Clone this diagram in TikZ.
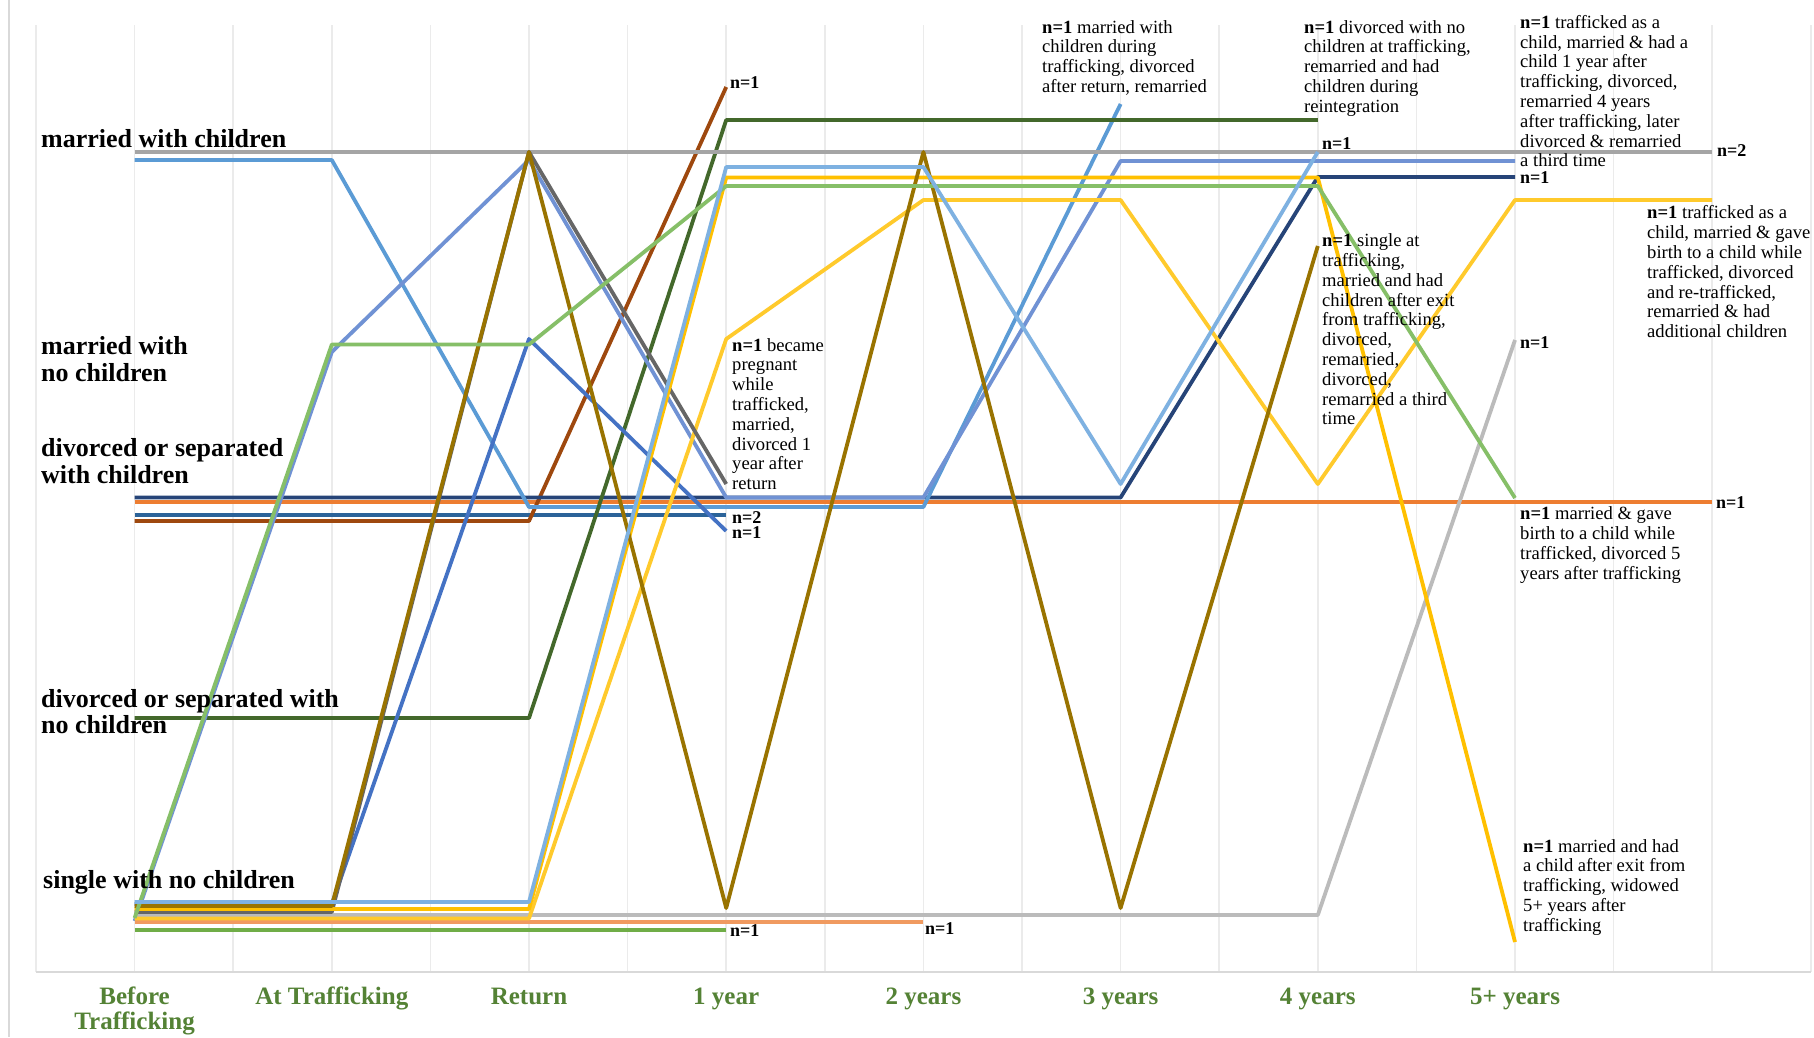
\documentclass[tikz,border=0pt]{standalone}
\usepackage{fontspec}
\setmainfont{Liberation Serif}
\definecolor{cGrayA}{HTML}{A5A5A5}
\definecolor{cBlue}{HTML}{5B9BD5}
\definecolor{cPeri}{HTML}{7092D4}
\definecolor{cLGreen}{HTML}{86BF68}
\definecolor{cOlive}{HTML}{997300}
\definecolor{cDGray}{HTML}{666666}
\definecolor{cMBlue}{HTML}{4472C4}
\definecolor{cLBlue}{HTML}{7EB1E1}
\definecolor{cYel}{HTML}{FFC000}
\definecolor{cYel2}{HTML}{FFCA2C}
\definecolor{cNavy}{HTML}{264478}
\definecolor{cOrange}{HTML}{ED7D31}
\definecolor{cSteel}{HTML}{2B6399}
\definecolor{cBrown}{HTML}{9E480E}
\definecolor{cDGreen}{HTML}{43682B}
\definecolor{cLOrange}{HTML}{F09A60}
\definecolor{cLGray}{HTML}{BBBBBB}
\definecolor{cGreen}{HTML}{70AD47}
\definecolor{axgreen}{HTML}{548235}
\definecolor{gridc}{HTML}{EBEBEB}
\definecolor{axisc}{HTML}{D9D9D9}
\begin{document}
\begin{tikzpicture}[x=1pt,y=-1pt,
  ser/.style={line width=3.8pt, line join=round},
  catlab/.style={font=\fontsize{26}{27}\selectfont\bfseries, anchor=base west, inner sep=0pt},
  axlab/.style={font=\fontsize{25}{26}\selectfont\bfseries, text=axgreen, anchor=base, inner sep=0pt},
  note/.style={font=\fontsize{18.6}{19.8}\selectfont, align=left, anchor=north west, inner sep=0pt},
  nlab/.style={font=\fontsize{18}{19}\selectfont\bfseries, anchor=west, inner sep=0pt}]
\fill[white] (0,0) rectangle (1814,1037);
\useasboundingbox (0,0) rectangle (1814,1037);
% frame and grid
\draw[axisc, line width=2pt] (9,0) -- (9,1037);
\foreach \i in {0,...,18}{
  \draw[gridc, line width=1.5pt] ({36+98.6*\i},25) -- ({36+98.6*\i},972);
}
\draw[axisc, line width=2.5pt] (36,972) -- (1811,972);
% series
\draw[ser, cOrange] (134.6,502) -- (1712.2,502);
\draw[ser, cSteel] (134.6,515) -- (726.2,515);
\draw[ser, cBrown] (134.6,521) -- (529,521) -- (726.2,87);
\draw[ser, cNavy] (134.6,497.5) -- (1120.6,497.5) -- (1317.8,177) -- (1515,177);
\draw[ser, cBlue] (134.6,160) -- (331.8,160) -- (529,507) -- (923.4,507) -- (1120.6,104);
\draw[ser, cDGreen] (134.6,718) -- (529,718) -- (726.2,120) -- (1317.8,120);
\draw[ser, cGrayA] (134.6,152) -- (1712.2,152);
\draw[ser, cMBlue] (134.6,904) -- (331.8,904) -- (529,339) -- (726.2,531);
\draw[ser, cPeri] (134.6,921) -- (331.8,352) -- (529,160) -- (726.2,497.5) -- (923.4,497.5) -- (1120.6,161) -- (1515,161);
\draw[ser, cGreen] (134.6,930) -- (726.2,930);
\draw[ser, cLOrange] (134.6,922) -- (923.4,922);
\draw[ser, cLGray] (134.6,915) -- (1317.8,915) -- (1515,340);
\draw[ser, cYel2] (134.6,918.5) -- (529,918.5) -- (726.2,339) -- (923.4,200) -- (1120.6,200) -- (1317.8,484) -- (1515,200) -- (1712.2,200);
\draw[ser, cDGray] (134.6,912) -- (331.8,912) -- (529,152) -- (726.2,484);
\draw[ser, cYel] (134.6,909) -- (529,909) -- (726.2,177.5) -- (1317.8,177.5) -- (1515,942);
\draw[ser, cOlive] (134.6,906) -- (331.8,906) -- (529,152) -- (726.2,908) -- (923.4,152) -- (1120.6,908) -- (1317.8,246);
\draw[ser, cLGreen] (134.6,918) -- (331.8,344.5) -- (529,344.5) -- (726.2,186) -- (1317.8,186) -- (1515,498);
\draw[ser, cLBlue] (134.6,902) -- (529,902) -- (726.2,167) -- (923.4,167) -- (1120.6,484) -- (1317.8,152);
% category labels
\node[catlab] (l1) at (41,147.5) {married with children};
\node[catlab] (l2a) at (41,354.5) {married with};
\node[catlab] (l2b) at (41,381.5) {no children};
\node[catlab] (l3a) at (41,456.5) {divorced or separated};
\node[catlab] (l3b) at (41,483.5) {with children};
\node[catlab] (l4a) at (41,707) {divorced or separated with};
\node[catlab] (l4b) at (41,733.5) {no children};
\node[catlab] (l5) at (43,888.5) {single with no children};
% axis labels
\node[axlab] (a0a) at (134.6,1004) {Before};
\node[axlab] (a0b) at (134.6,1029) {Trafficking};
\node[axlab] (a1) at (331.8,1004) {At Trafficking};
\node[axlab] (a2) at (529,1004) {Return};
\node[axlab] (a3) at (726.2,1004) {1 year};
\node[axlab] (a4) at (923.4,1004) {2 years};
\node[axlab] (a5) at (1120.6,1004) {3 years};
\node[axlab] (a6) at (1317.8,1004) {4 years};
\node[axlab] (a7) at (1515,1004) {5+ years};
% annotations
\node[note] (t1) at (1042,20) {\textbf{n=1} married with\\children during\\trafficking, divorced\\after return, remarried};
\node[note] (t2) at (1304,20) {\textbf{n=1} divorced with no\\children at trafficking,\\remarried and had\\children during\\reintegration};
\node[note] (t3) at (1520,15) {\textbf{n=1} trafficked as a\\child, married \& had a\\child 1 year after\\trafficking, divorced,\\remarried 4 years\\after trafficking, later\\divorced \& remarried\\a third time};
\node[note] (t4) at (1647,205.5) {\textbf{n=1} trafficked as a\\child, married \& gave\\birth to a child while\\trafficked, divorced\\and re-trafficked,\\remarried \& had\\additional children};
\node[note] (t5) at (1322,233.5) {\textbf{n=1} single at\\trafficking,\\married and had\\children after exit\\from trafficking,\\divorced,\\remarried,\\divorced,\\remarried a third\\time};
\node[note] (t6) at (732,338) {\textbf{n=1} became\\pregnant\\while\\trafficked,\\married,\\divorced 1\\year after\\return};
\node[note] (t7) at (1520,506.5) {\textbf{n=1} married \& gave\\birth to a child while\\trafficked, divorced 5\\years after trafficking};
\node[note] (t8) at (1523,839) {\textbf{n=1} married and had\\a child after exit from\\trafficking, widowed\\5+ years after\\trafficking};
% n labels
\node[nlab] (n1) at (730,83) {n=1};
\node[nlab] (n2) at (1322,144) {n=1};
\node[nlab] (n3) at (1717,151) {n=2};
\node[nlab] (n4) at (1520,178) {n=1};
\node[nlab] (n5) at (1520,343) {n=1};
\node[nlab] (n6) at (1716,503) {n=1};
\node[nlab] (n7) at (732,518) {n=2};
\node[nlab] (n8) at (732,533) {n=1};
\node[nlab] (n9) at (730,931) {n=1};
\node[nlab] (n10) at (925,929) {n=1};
\end{tikzpicture}
\end{document}
